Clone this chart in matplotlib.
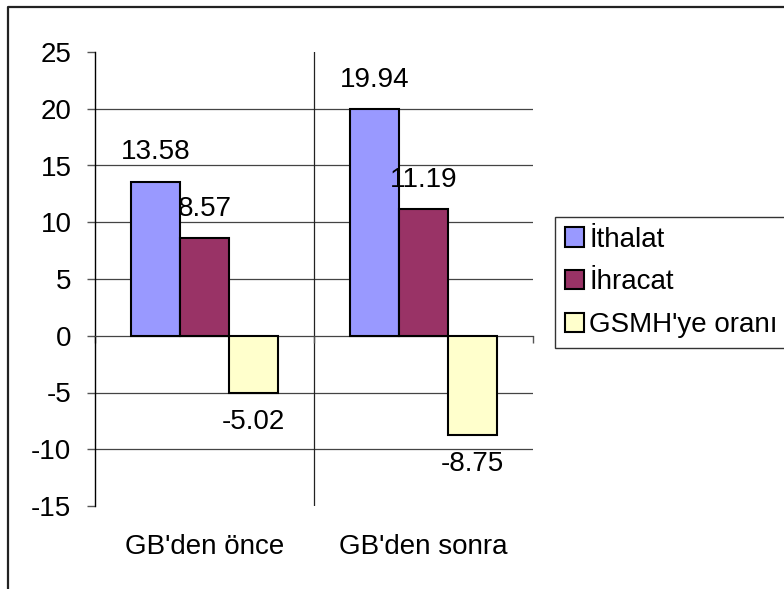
import matplotlib
matplotlib.use("Agg")
import matplotlib.pyplot as plt
from matplotlib.lines import Line2D
from matplotlib.transforms import blended_transform_factory
import numpy as np

plt.rcParams['font.family'] = ['Liberation Sans', 'DejaVu Sans']

# data
categories = ["GB'den önce", "GB'den sonra"]
series = ["İthalat", "İhracat", "GSMH'ye oranı"]
ithalat = [13.58, 19.94]
ihracat = [8.57, 11.19]
gsmh = [-5.02, -8.75]
colors = ['#9999FF', '#993366', '#FFFFCC']
yticks = [-15, -10, -5, 0, 5, 10, 15, 20, 25]

fig = plt.figure(figsize=(7.84, 5.89), dpi=100)
ax = fig.add_axes([95/784, 1 - 506/589, 438/784, 454/589])

x = np.arange(len(categories))
w = 0.2237
for i, (name, vals) in enumerate(zip(series, [ithalat, ihracat, gsmh])):
    bars = ax.bar(x + (i - 1) * w, vals, w, color=colors[i], edgecolor='black',
                  linewidth=1.5, label=name, zorder=3)
    for b, v in zip(bars, vals):
        off = 21 if v >= 0 else -21
        ax.annotate(f'{v:.2f}', xy=(b.get_x() + w/2, v), xytext=(0, off),
                    textcoords='offset points', ha='center', va='center',
                    fontsize=20, zorder=4)

ax.set_xlim(-0.5, 1.5)
ax.set_ylim(-15, 25)
ax.set_yticks(yticks)
ax.set_yticklabels([str(t) for t in yticks], fontsize=20)
ax.tick_params(axis='y', direction='out', length=6, width=1, color='#555555', pad=11)

# horizontal gridlines (not at top/bottom)
for t in yticks[1:-1]:
    if t != 0:
        ax.axhline(t, color='#444444', linewidth=0.9, zorder=1)
ax.axvline(0.5, color='#222222', linewidth=0.9, zorder=1)

for s in ['top', 'right']:
    ax.spines[s].set_visible(False)
ax.spines['left'].set_color('black')
ax.spines['left'].set_linewidth(1)
ax.spines['bottom'].set_position(('data', 0))
ax.spines['bottom'].set_color('#444444')
ax.spines['bottom'].set_linewidth(0.9)
ax.set_xticks([-0.5, 0.5, 1.5])
ax.set_xticklabels([])
ax.tick_params(axis='x', direction='out', length=5, width=1, color='#555555')

trans = blended_transform_factory(ax.transData, ax.transAxes)
for xi, c in zip(x, categories):
    ax.text(xi, -41/454, c, transform=trans, ha='center', va='center', fontsize=20)

leg = fig.legend(loc='upper left', bbox_to_anchor=(555/784, 1 - 217/589),
                 fontsize=20, frameon=True, fancybox=False, handlelength=0.68,
                 handleheight=0.68, handletextpad=0.2, borderpad=0.35,
                 labelspacing=0.6, borderaxespad=0)
leg.get_frame().set_edgecolor('black')
leg.get_frame().set_linewidth(1)
for h in leg.legend_handles:
    h.set_linewidth(1.5)

# outer chart border (left and top)
fig.add_artist(Line2D([8/784, 8/784, 1], [0, 1 - 7/589, 1 - 7/589],
                      transform=fig.transFigure, color='#222222', linewidth=1.6))

fig.savefig('out.png', dpi=100)
